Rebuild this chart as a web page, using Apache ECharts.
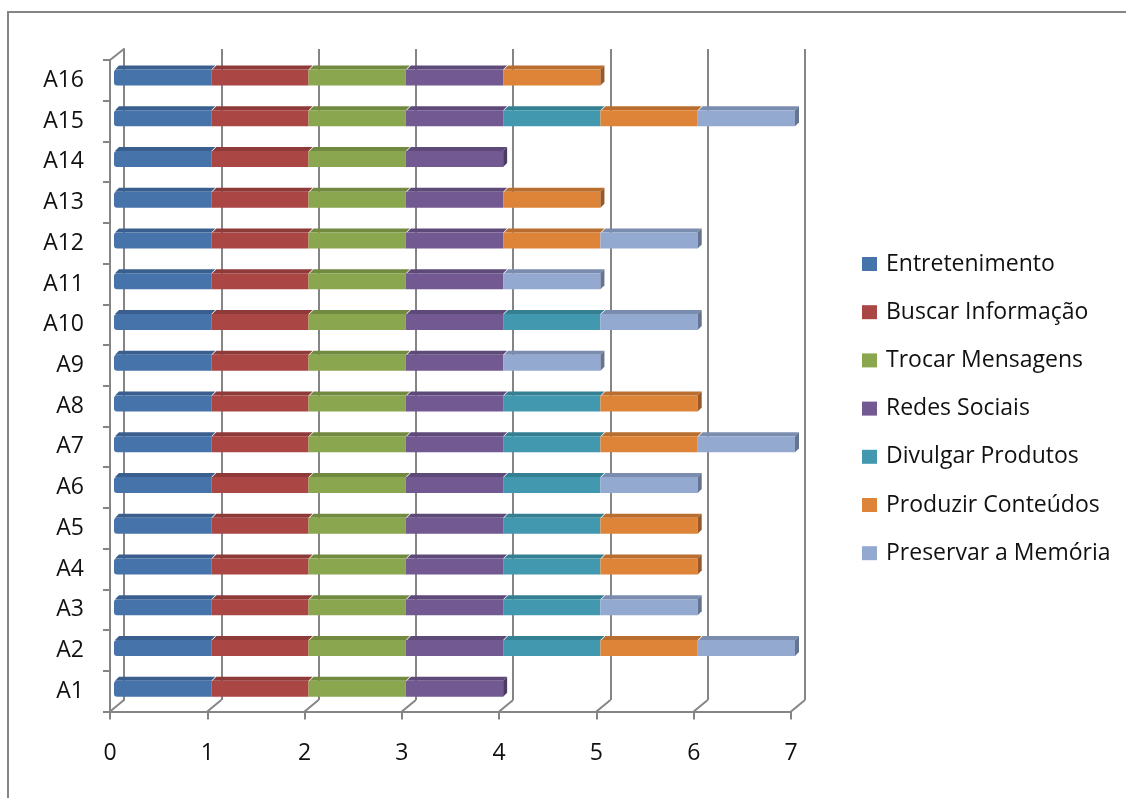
<!DOCTYPE html>
<html>
<head>
<meta charset="utf-8">
<script src="https://cdn.jsdelivr.net/npm/echarts@6/dist/echarts.min.js"></script>
<style>
html,body{margin:0;padding:0;background:#fff;}
#chart{width:1126px;height:798px;}
</style>
</head>
<body>
<div id="chart"></div>
<script>
// ---- data ----
const categories = ['A1','A2','A3','A4','A5','A6','A7','A8','A9','A10','A11','A12','A13','A14','A15','A16'];
const xTicks = [0,1,2,3,4,5,6,7];
const seriesNames = ['Entretenimento','Buscar Informação','Trocar Mensagens','Redes Sociais','Divulgar Produtos','Produzir Conteúdos','Preservar a Memória'];
const entretenimento   = [1,1,1,1,1,1,1,1,1,1,1,1,1,1,1,1];
const buscarInformacao = [1,1,1,1,1,1,1,1,1,1,1,1,1,1,1,1];
const trocarMensagens  = [1,1,1,1,1,1,1,1,1,1,1,1,1,1,1,1];
const redesSociais     = [1,1,1,1,1,1,1,1,1,1,1,1,1,1,1,1];
const divulgarProdutos = [0,1,1,1,1,1,1,1,0,1,0,0,0,0,1,0];
const produzirConteudos= [0,1,0,1,1,0,1,1,0,0,0,1,1,0,1,1];
const preservarMemoria = [0,1,1,0,0,1,1,0,1,1,1,1,0,0,1,0];
const seriesValues = [entretenimento,buscarInformacao,trocarMensagens,redesSociais,divulgarProdutos,produzirConteudos,preservarMemoria];

// ---- styles ----
const frontColors = ['#4673AA','#AA4644','#8AA64E','#725991','#4198AF','#DE8439','#94A9D0'];
const topColors   = ['#3A5F8E','#8E3A38','#728A40','#5E4A78','#357F92','#B96D2F','#7B8DAE'];
const sideColors  = ['#2F4D74','#742F2E','#5E7134','#4D3C62','#2B6777','#985927','#65748F'];
const FONT = 'Open Sans';
const GRAY = '#858585';
const TEXT = '#111';

function buildData(i){
  const out = [];
  categories.forEach((c,j)=>{
    const v = seriesValues[i][j];
    if(!v) return;
    let start = 0; for(let m=0;m<i;m++) start += seriesValues[m][j];
    let after = 0; for(let m=i+1;m<seriesValues.length;m++) after += seriesValues[m][j];
    out.push([j, start, start+v, after===0?1:0]);
  });
  return out;
}

function barRenderer(i){
  return function(params, api){
    const cat = api.value(0), s = api.value(1), e = api.value(2), last = api.value(3);
    const p0 = api.coord([s, cat]);
    const p1 = api.coord([e, cat]);
    const h = 16, d = 4;
    const yT = p0[1] - h/2;
    const children = [
      {type:'polygon', shape:{points:[[p0[0]+1,yT],[p1[0],yT],[p1[0]+d,yT-d],[p0[0]+d+1,yT-d]]}, style:{fill:topColors[i]}},
      {type:'rect', shape:{x:p0[0], y:yT, width:p1[0]-p0[0], height:h, r: s===0?[3,0,0,3]:0}, style:{fill:frontColors[i]}}
    ];
    if(last){
      children.push({type:'polygon', shape:{points:[[p1[0],yT],[p1[0]+d,yT-d],[p1[0]+d,yT+h-d],[p1[0],yT+h]]}, style:{fill:sideColors[i]}});
    }
    return {type:'group', children};
  };
}

function edgeRenderer(params, api){
  const cs = params.coordSys;
  const k = api.value(0);
  const yb = cs.y + cs.height;
  const x = api.coord([k, 0])[0];
  const children = [{type:'line', shape:{x1:x, y1:yb, x2:x+14, y2:yb-11.5}, style:{stroke:GRAY, lineWidth:2}}];
  if(k===0){
    children.push({type:'line', shape:{x1:cs.x, y1:cs.y, x2:cs.x+14, y2:cs.y-11}, style:{stroke:GRAY, lineWidth:2}});
  }
  return {type:'group', children};
}

const chart = echarts.init(document.getElementById('chart'), null, {renderer:'canvas'});

const series = seriesNames.map((name,i)=>({
  type:'custom', name, xAxisIndex:2, yAxisIndex:2, z:5,
  itemStyle:{color:frontColors[i]},
  renderItem: barRenderer(i),
  encode:{x:[1,2], y:0},
  data: buildData(i)
}));
series.push({
  type:'custom', name:'edges', xAxisIndex:1, yAxisIndex:1, z:3, silent:true,
  renderItem: edgeRenderer,
  encode:{x:0},
  data: xTicks.map(k=>[k])
});

const option = {
  backgroundColor:'#fff',
  animation:false,
  textStyle:{fontFamily:FONT},
  graphic:[{type:'rect', shape:{x:8, y:12, width:1200, height:900}, style:{fill:'none', stroke:GRAY, lineWidth:2}, z:-1}],
  legend:{
    orient:'vertical', left:862, top:252, padding:0,
    itemWidth:15, itemHeight:14, itemGap:24.2,
    icon:'rect',
    data:seriesNames,
    textStyle:{fontFamily:FONT, fontSize:23, color:TEXT, lineHeight:24, padding:[0,0,0,4]}
  },
  grid:[
    {left:124, top:49, width:681, height:651},
    {left:110, top:60, width:681, height:651.5},
    {left:114, top:57, width:681, height:652}
  ],
  xAxis:[
    {gridIndex:0, type:'value', min:0, max:7, interval:1, axisLine:{show:false}, axisTick:{show:false}, axisLabel:{show:false},
     splitLine:{show:true, lineStyle:{color:GRAY, width:2}}},
    {gridIndex:1, type:'value', min:0, max:7, interval:1,
     axisLine:{show:true, lineStyle:{color:GRAY, width:2}},
     axisTick:{show:true, length:8, lineStyle:{color:GRAY, width:2}},
     axisLabel:{show:true, margin:30, fontSize:23, color:TEXT, fontFamily:FONT},
     splitLine:{show:false}},
    {gridIndex:2, type:'value', min:0, max:7, interval:1, show:false, splitLine:{show:false}}
  ],
  yAxis:[
    {gridIndex:0, type:'category', data:categories, axisLine:{show:true, lineStyle:{color:GRAY, width:2}}, axisTick:{show:false}, axisLabel:{show:false}},
    {gridIndex:1, type:'category', data:categories,
     axisLine:{show:true, lineStyle:{color:GRAY, width:2}},
     axisTick:{show:true, length:7, lineStyle:{color:GRAY, width:2}},
     axisLabel:{show:true, margin:26, fontSize:23, color:TEXT, fontFamily:FONT}},
    {gridIndex:2, type:'category', data:categories, show:false}
  ],
  series
};
chart.setOption(option);
</script>
</body>
</html>
